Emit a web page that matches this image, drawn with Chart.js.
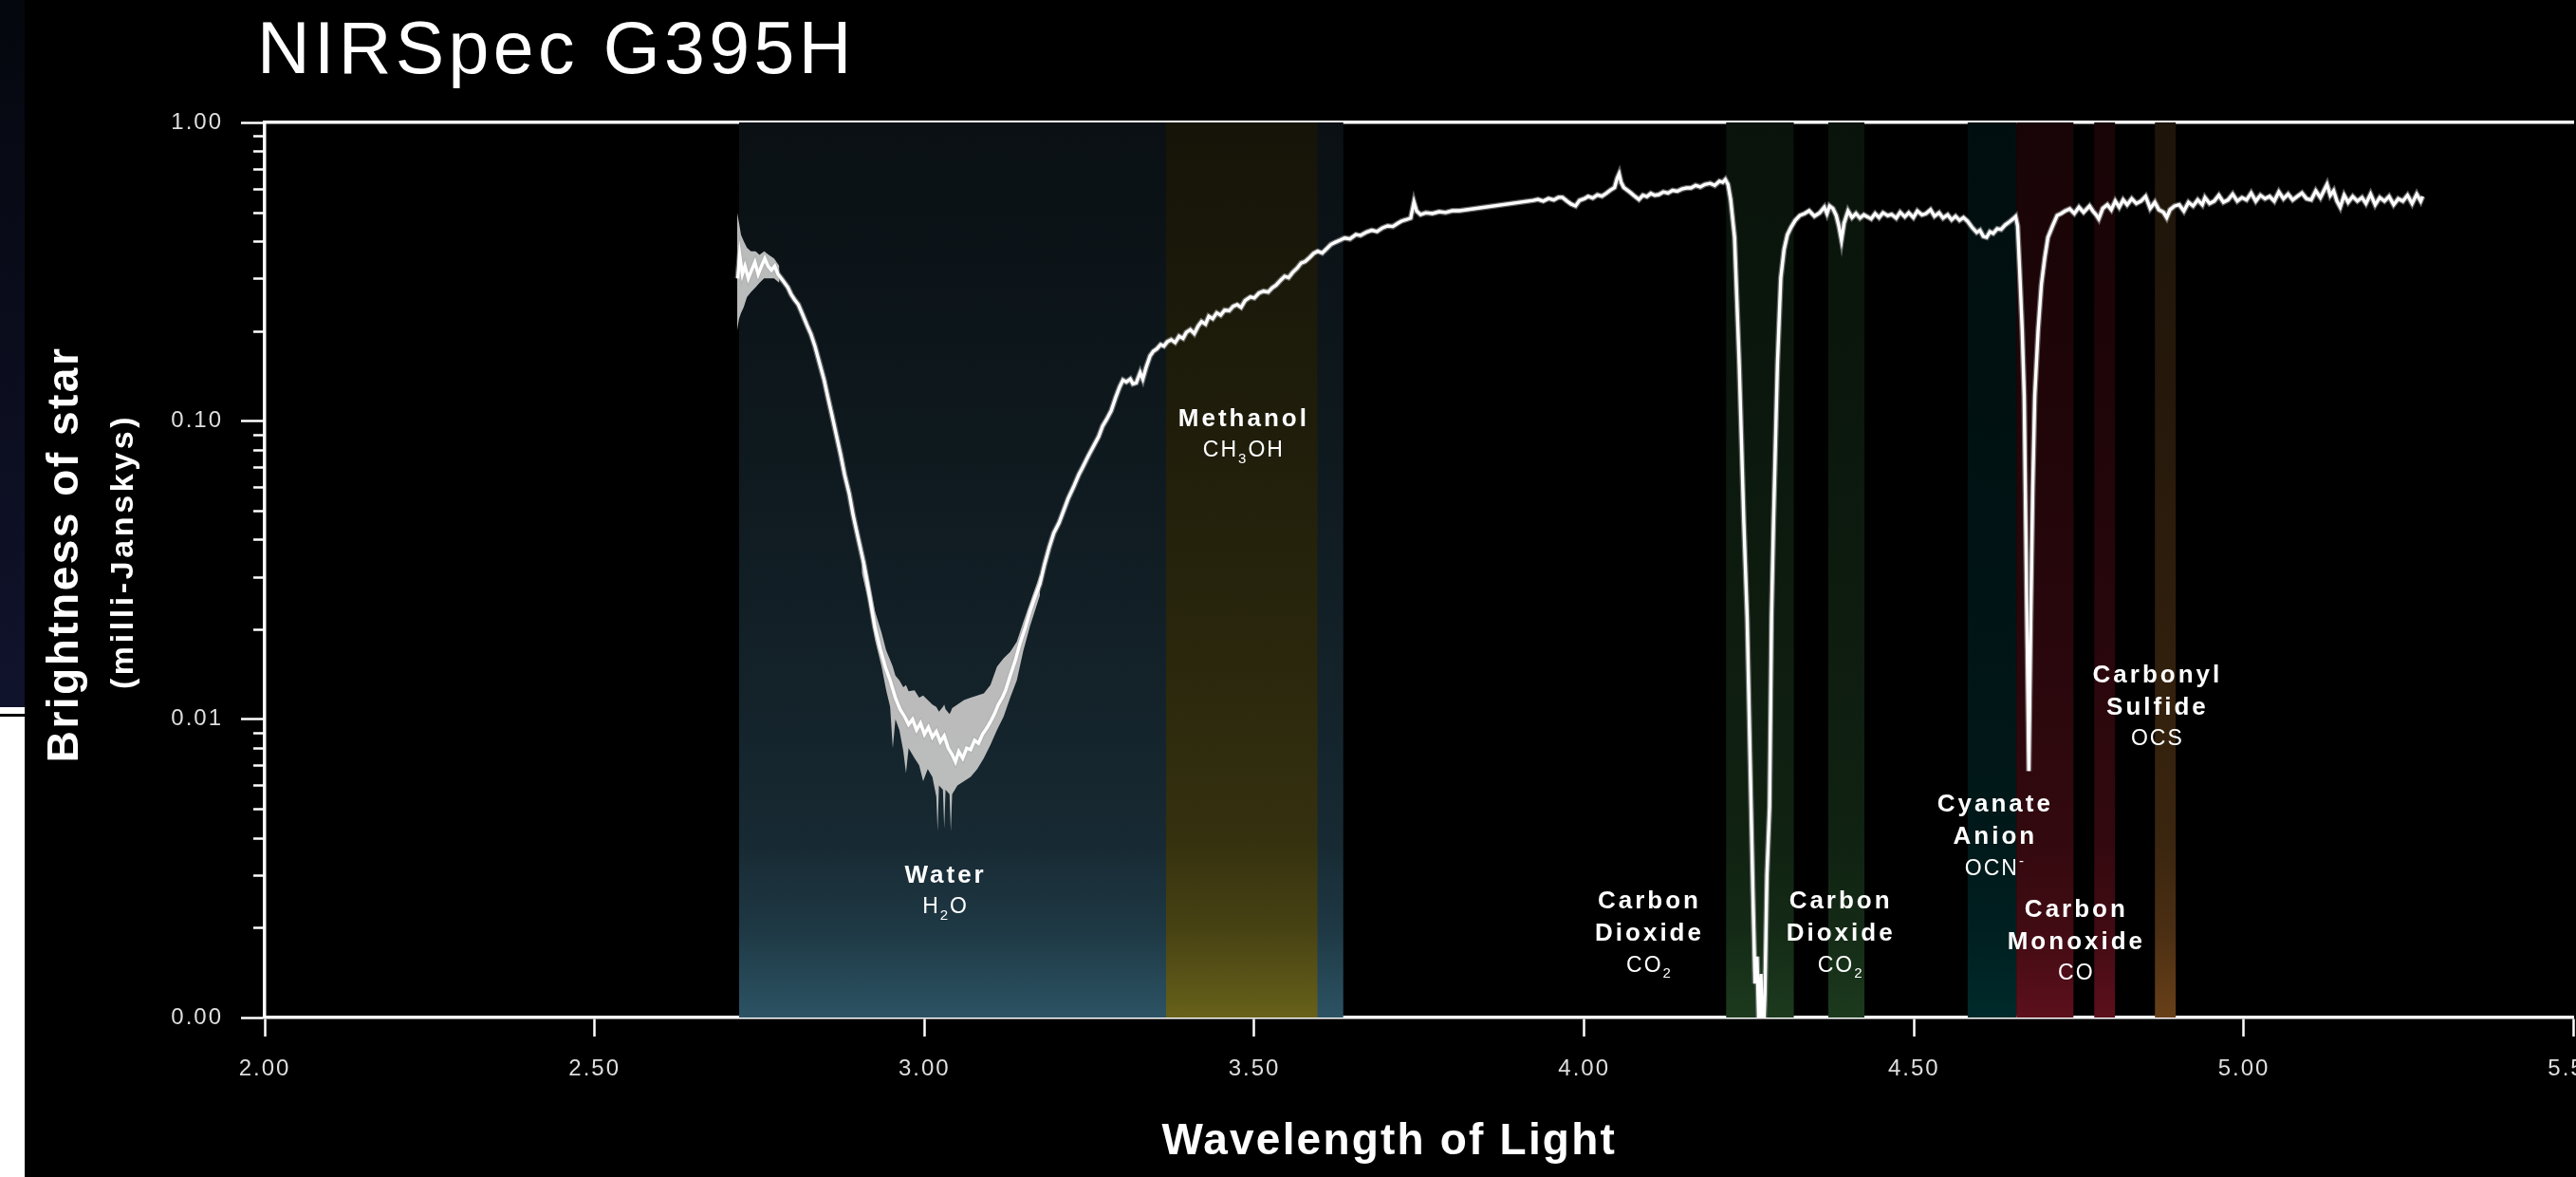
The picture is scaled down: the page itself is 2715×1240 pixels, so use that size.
<!DOCTYPE html>
<html>
<head>
<meta charset="utf-8">
<title>NIRSpec G395H</title>
<script src="https://cdn.jsdelivr.net/npm/chart.js@4.4.1/dist/chart.umd.min.js"></script>
<style>
  html, body { margin: 0; padding: 0; background: #000; overflow: hidden; }
  #wrap { position: relative; width: 2760px; height: 1240px; }
</style>
</head>
<body>
<div id="wrap"><canvas id="spectrumChart"></canvas></div>
<script>
const FONT = '"Liberation Sans", Arial, Helvetica, sans-serif';

/* axes */
const chartTitle = 'NIRSpec G395H';
const xTitle = 'Wavelength of Light';
const yTitle = ['Brightness of star', '(milli-Janskys)'];
const xMin = 2.0, xMax = 5.5, xStep = 0.5;
const yMin = 0.001, yMax = 1;

/* absorption bands (wavelength, microns) */
const bandNames = ['Water', 'Methanol', 'Carbon Dioxide', 'Carbon Dioxide', 'Cyanate Anion', 'Carbon Monoxide', 'Carbon Monoxide', 'Carbonyl Sulfide'];
const bandStart = [2.719, 3.366, 4.215, 4.370, 4.581, 4.655, 4.773, 4.865];
const bandEnd   = [3.635, 3.596, 4.318, 4.425, 4.655, 4.742, 4.805, 4.897];

/* band labels */
const labelNames = [['Water'], ['Methanol'], ['Carbon', 'Dioxide'], ['Carbon', 'Dioxide'], ['Cyanate', 'Anion'], ['Carbon', 'Monoxide'], ['Carbonyl', 'Sulfide']];
const labelFormulas = ['H_2O', 'CH_3OH', 'CO_2', 'CO_2', 'OCN^-', 'CO', 'OCS'];
const labelWl   = [3.032, 3.484, 4.099, 4.389, 4.623, 4.746, 4.869];
const labelFlux = [0.00298, 0.101, 0.00244, 0.00244, 0.00515, 0.00229, 0.01396];

/* spectrum: [wavelength, flux] */
const spectrum = [
  [2.717,0.30],[2.720,0.36],[2.724,0.31],[2.728,0.33],[2.733,0.30],[2.738,0.32],[2.743,0.34],[2.748,0.31],
  [2.753,0.33],[2.758,0.35],[2.763,0.33],[2.768,0.32],[2.773,0.33],[2.778,0.31],[2.783,0.30],[2.788,0.29],
  [2.793,0.28],[2.798,0.265],[2.803,0.255],[2.809,0.245],[2.815,0.228],[2.822,0.209],[2.828,0.195],[2.834,0.178],
  [2.841,0.156],[2.848,0.137],[2.854,0.119],[2.860,0.104],[2.867,0.0885],[2.873,0.077],[2.879,0.066],[2.886,0.057],
  [2.892,0.0482],[2.900,0.040],[2.908,0.0334],[2.916,0.0265],[2.925,0.0203],[2.933,0.0172],[2.941,0.0149],[2.948,0.0135],
  [2.956,0.0118],[2.963,0.0108],[2.970,0.0102],[2.976,0.0096],[2.982,0.0100],[2.988,0.0092],[2.994,0.0097],[3.000,0.0089],
  [3.006,0.0094],[3.012,0.0087],[3.018,0.0091],[3.024,0.0084],[3.030,0.0088],[3.036,0.0080],[3.042,0.0076],[3.047,0.0072],
  [3.052,0.0078],[3.058,0.0074],[3.064,0.0080],[3.070,0.0079],[3.076,0.0085],[3.082,0.0083],[3.088,0.0089],[3.094,0.0093],
  [3.100,0.0098],[3.106,0.0104],[3.112,0.0112],[3.118,0.0118],[3.123,0.0125],[3.130,0.0140],[3.138,0.0158],[3.145,0.0180],
  [3.153,0.0203],[3.160,0.0230],[3.167,0.0255],[3.175,0.0284],[3.182,0.0330],[3.189,0.0376],[3.196,0.0420],[3.204,0.0455],
  [3.211,0.0500],[3.218,0.0550],[3.226,0.0600],[3.234,0.0660],[3.240,0.0700],[3.248,0.0760],[3.256,0.0820],[3.264,0.0885],
  [3.270,0.0960],[3.276,0.1010],[3.283,0.1080],[3.290,0.1200],[3.296,0.1300],[3.301,0.1370],[3.306,0.1350],[3.312,0.1380],
  [3.316,0.1330],[3.321,0.1340],[3.327,0.1450],[3.331,0.1380],[3.336,0.1510],[3.342,0.1650],[3.347,0.1710],[3.352,0.1740],
  [3.358,0.1800],[3.363,0.1780],[3.368,0.1840],[3.374,0.1870],[3.380,0.1830],[3.386,0.1920],[3.392,0.1890],[3.397,0.1980],
  [3.403,0.2020],[3.409,0.1960],[3.415,0.2080],[3.420,0.2150],[3.426,0.2110],[3.431,0.2240],[3.437,0.2200],[3.443,0.2300],
  [3.449,0.2260],[3.455,0.2350],[3.462,0.2340],[3.468,0.2420],[3.474,0.2450],[3.480,0.2400],[3.486,0.2530],[3.494,0.2600],
  [3.500,0.2580],[3.507,0.2680],[3.514,0.2720],[3.521,0.2700],[3.527,0.2790],[3.533,0.2850],[3.540,0.2960],[3.546,0.3050],
  [3.552,0.3020],[3.558,0.3140],[3.565,0.3250],[3.571,0.3380],[3.577,0.3420],[3.584,0.3530],[3.590,0.3640],[3.596,0.3700],
  [3.603,0.3650],[3.610,0.3780],[3.616,0.3900],[3.623,0.3970],[3.630,0.4030],[3.637,0.4100],[3.645,0.4070],[3.654,0.4210],
  [3.661,0.4180],[3.670,0.4290],[3.678,0.4350],[3.686,0.4310],[3.694,0.4430],[3.702,0.4500],[3.710,0.4480],[3.718,0.4600],
  [3.723,0.4670],[3.730,0.4720],[3.737,0.4780],[3.742,0.5410],[3.746,0.5050],[3.752,0.4910],[3.760,0.4980],[3.770,0.4950],
  [3.780,0.5020],[3.790,0.4990],[3.800,0.5060],[3.811,0.5060],
  [3.923,0.5480],[3.930,0.5520],[3.938,0.5450],[3.946,0.5560],[3.954,0.5500],[3.961,0.5610],[3.967,0.5610],[3.974,0.5450],
  [3.980,0.5330],[3.987,0.5250],[3.993,0.5480],[4.000,0.5550],[4.006,0.5650],[4.013,0.5580],[4.020,0.5720],[4.027,0.5660],
  [4.034,0.5800],[4.040,0.5940],[4.046,0.6050],[4.050,0.6500],[4.053,0.6730],[4.056,0.6300],[4.060,0.6050],[4.065,0.5940],
  [4.071,0.5800],[4.077,0.5650],[4.083,0.5520],[4.089,0.5700],[4.095,0.5640],[4.101,0.5780],[4.107,0.5700],[4.113,0.5730],
  [4.120,0.5850],[4.127,0.5800],[4.134,0.5920],[4.141,0.5880],[4.148,0.5980],[4.155,0.6030],[4.162,0.6030],[4.169,0.6150],
  [4.176,0.6080],[4.183,0.6200],[4.191,0.6250],[4.198,0.6150],[4.205,0.6350],[4.210,0.6300],[4.214,0.6440],[4.218,0.6200],
  [4.222,0.5520],[4.228,0.4120],[4.235,0.1560],[4.242,0.0457],[4.247,0.0220],[4.253,0.0051],[4.256,0.0025],[4.259,0.0013],
  [4.262,0.0016],[4.265,0.0009],[4.268,0.0014],[4.271,0.0008],[4.274,0.0012],[4.277,0.0030],[4.281,0.0051],[4.284,0.0220],
  [4.287,0.0457],[4.293,0.1560],[4.298,0.3010],[4.303,0.3750],[4.308,0.4200],[4.313,0.4430],[4.320,0.4700],[4.327,0.4880],
  [4.334,0.4950],[4.341,0.5060],[4.349,0.4850],[4.357,0.4980],[4.364,0.5200],[4.368,0.4950],[4.372,0.5250],[4.377,0.5150],
  [4.382,0.4880],[4.386,0.4500],[4.390,0.4030],[4.394,0.4600],[4.400,0.5050],[4.406,0.4800],[4.412,0.4950],[4.418,0.4780],
  [4.424,0.4900],[4.430,0.4820],[4.435,0.4750],[4.441,0.4950],[4.447,0.4800],[4.453,0.4980],[4.460,0.4870],[4.466,0.4920],
  [4.473,0.4780],[4.479,0.5000],[4.486,0.4830],[4.492,0.4980],[4.499,0.4800],[4.505,0.5050],[4.512,0.4900],[4.518,0.4950],
  [4.525,0.5100],[4.531,0.4850],[4.538,0.4980],[4.544,0.4780],[4.551,0.4900],[4.557,0.4720],[4.563,0.4850],[4.569,0.4700],
  [4.575,0.4800],[4.581,0.4670],[4.588,0.4450],[4.595,0.4280],[4.600,0.4350],[4.605,0.4150],[4.610,0.4120],[4.615,0.4300],
  [4.620,0.4250],[4.626,0.4400],[4.632,0.4380],[4.638,0.4530],[4.645,0.4650],[4.650,0.4750],[4.654,0.4840],[4.657,0.4500],
  [4.660,0.3240],[4.664,0.2000],[4.667,0.1210],[4.671,0.0220],[4.674,0.0067],[4.677,0.0220],[4.680,0.0600],[4.683,0.1210],
  [4.688,0.2000],[4.693,0.2860],[4.698,0.3500],[4.703,0.4120],[4.710,0.4500],[4.717,0.4880],[4.723,0.4950],[4.729,0.5050],
  [4.736,0.5130],[4.743,0.4950],[4.750,0.5200],[4.757,0.5000],[4.766,0.5250],[4.771,0.5050],[4.776,0.4900],[4.780,0.4750],
  [4.786,0.5150],[4.793,0.5300],[4.799,0.5100],[4.805,0.5450],[4.811,0.5200],[4.817,0.5500],[4.823,0.5300],[4.830,0.5550],
  [4.837,0.5350],[4.844,0.5450],[4.851,0.5650],[4.858,0.5150],[4.865,0.5400],[4.871,0.5100],[4.878,0.5000],[4.883,0.4800],
  [4.888,0.5100],[4.895,0.5250],[4.902,0.5300],[4.909,0.5050],[4.916,0.5400],[4.923,0.5250],[4.930,0.5500],[4.937,0.5300],
  [4.941,0.5600],[4.948,0.5350],[4.955,0.5450],[4.962,0.5700],[4.969,0.5400],[4.976,0.5500],[4.983,0.5750],[4.990,0.5450],
  [4.997,0.5600],[5.004,0.5500],[5.011,0.5800],[5.018,0.5450],[5.025,0.5700],[5.032,0.5550],[5.039,0.5650],[5.046,0.5450],
  [5.053,0.5850],[5.060,0.5550],[5.067,0.5750],[5.074,0.5500],[5.081,0.5650],[5.088,0.5800],[5.095,0.5550],[5.102,0.5500],
  [5.109,0.5900],[5.116,0.5600],[5.122,0.5950],[5.126,0.6200],[5.131,0.5700],[5.136,0.5900],[5.141,0.5450],[5.146,0.5200],
  [5.152,0.5700],[5.158,0.5400],[5.165,0.5650],[5.172,0.5450],[5.179,0.5600],[5.185,0.5350],[5.192,0.5750],[5.199,0.5300],
  [5.206,0.5600],[5.213,0.5450],[5.220,0.5650],[5.227,0.5300],[5.234,0.5550],[5.241,0.5450],[5.248,0.5700],[5.255,0.5350],
  [5.262,0.5750],[5.268,0.5450],[5.271,0.5650]
];

/* noise envelope: [wavelength, low, high] */
const noiseStart = [
  [2.716,0.20,0.50],[2.719,0.22,0.46],[2.722,0.23,0.42],[2.726,0.24,0.40],[2.731,0.26,0.38],[2.737,0.27,0.37],
  [2.744,0.28,0.37],[2.750,0.29,0.36],[2.757,0.30,0.37],[2.764,0.30,0.36],[2.772,0.30,0.35],[2.780,0.29,0.33]
];
const noiseTrough = [
  [2.905,0.031,0.037],[2.915,0.025,0.030],[2.925,0.0185,0.023],[2.935,0.0150,0.0195],[2.942,0.0125,0.0170],
  [2.948,0.0110,0.0158],[2.952,0.0080,0.0150],[2.956,0.0100,0.0140],[2.962,0.0092,0.0135],[2.968,0.0078,0.0128],
  [2.972,0.0066,0.0130],[2.976,0.0080,0.0124],[2.985,0.0074,0.0125],[2.992,0.0070,0.0118],[2.998,0.0062,0.0120],
  [3.005,0.0068,0.0116],[3.012,0.0064,0.0112],[3.018,0.0055,0.0110],[3.020,0.0042,0.0108],[3.022,0.0060,0.0106],
  [3.028,0.0058,0.0110],[3.030,0.0043,0.0112],[3.032,0.0058,0.0108],[3.038,0.0056,0.0104],[3.040,0.0042,0.0106],
  [3.042,0.0056,0.0109],[3.050,0.0060,0.0112],[3.060,0.0062,0.0116],[3.070,0.0064,0.0118],[3.080,0.0068,0.0120],
  [3.090,0.0074,0.0122],[3.100,0.0082,0.0130],[3.110,0.0092,0.0150],[3.120,0.0102,0.0160],[3.130,0.0118,0.0168],
  [3.140,0.0135,0.0182],[3.150,0.0170,0.0212],[3.160,0.0205,0.0245],[3.175,0.0260,0.0305]
];

/* band colours: dark at the top, brighter at the bottom */
const bandTop    = ['#0a1014', '#161408', '#09130b', '#09130b', '#010e0f', '#180406', '#180406', '#1e1409'];
const bandBottom = ['#2c5364', '#67611a', '#1c3a1e', '#1c3a1e', '#002a2b', '#5c101c', '#5c101c', '#684019'];
const gradStops = [[0, 0], [0.3, 0.1], [0.6, 0.25], [0.8, 0.38], [0.9, 0.6], [1, 1]];

function hexRgb(h) {
  return [1, 3, 5].map(i => parseInt(h.slice(i, i + 2), 16));
}
function mix(a, b, f) {
  const c = a.map((v, i) => Math.round(v + (b[i] - v) * f));
  return 'rgb(' + c.join(',') + ')';
}
function bandFill(i) {
  return (ctx) => {
    const area = ctx.chart.chartArea;
    if (!area) return bandBottom[i];
    const g = ctx.chart.ctx.createLinearGradient(0, area.top, 0, area.bottom);
    const top = hexRgb(bandTop[i]), bot = hexRgb(bandBottom[i]);
    gradStops.forEach(([t, f]) => g.addColorStop(t, mix(top, bot, f)));
    return g;
  };
}

function isMajor(v) {
  const l = Math.log10(v);
  return Math.abs(l - Math.round(l)) < 1e-6;
}

const spectrumPoints = spectrum.map(([x, y]) => ({ x, y }));
const datasets = [];

// spectrum on top, with a soft grey halo underneath
datasets.push({
  label: 'Spectrum',
  data: spectrumPoints,
  borderColor: '#ffffff',
  borderWidth: 3.4,
  pointRadius: 0,
  fill: false,
  order: 0
});
datasets.push({
  label: 'Spectrum halo',
  data: spectrumPoints,
  borderColor: 'rgba(175,175,175,0.55)',
  borderWidth: 6,
  pointRadius: 0,
  fill: false,
  order: 1
});

// grey noise envelopes
[noiseStart, noiseTrough].forEach(rows => {
  datasets.push({
    label: 'noise low',
    data: rows.map(r => ({ x: r[0], y: r[1] })),
    borderWidth: 0, pointRadius: 0, fill: false, order: 2
  });
  datasets.push({
    label: 'noise high',
    data: rows.map(r => ({ x: r[0], y: r[2] })),
    borderWidth: 0, pointRadius: 0, fill: '-1',
    backgroundColor: 'rgba(196,196,196,0.95)', order: 2
  });
});

// coloured bands
bandNames.forEach((name, i) => {
  datasets.push({
    label: name,
    data: [{ x: bandStart[i], y: yMax }, { x: bandEnd[i], y: yMax }],
    borderWidth: 0,
    pointRadius: 0,
    fill: 'start',
    backgroundColor: bandFill(i),
    order: i === 0 ? 5 : 4
  });
});

function drawFormula(ctx, text, cx, cy) {
  const parts = [];
  for (let i = 0; i < text.length; i++) {
    const ch = text[i];
    if ((ch === '_' || ch === '^') && i + 1 < text.length) {
      parts.push({ t: text[i + 1], kind: ch === '_' ? 'sub' : 'sup' });
      i++;
    } else {
      parts.push({ t: ch, kind: 'n' });
    }
  }
  const fontOf = p => p.kind === 'n' ? '23px ' + FONT : '15px ' + FONT;
  let total = 0;
  parts.forEach(p => { ctx.font = fontOf(p); p.w = ctx.measureText(p.t).width; total += p.w; });
  let x = cx - total / 2;
  ctx.textAlign = 'left';
  parts.forEach(p => {
    ctx.font = fontOf(p);
    const dy = p.kind === 'sub' ? 9 : p.kind === 'sup' ? -7 : 0;
    ctx.fillText(p.t, x, cy + dy);
    x += p.w;
  });
}

const decorPlugin = {
  id: 'decor',
  beforeUpdate(chart) { chart.ctx.letterSpacing = '2px'; },
  beforeDraw(chart) {
    const ctx = chart.ctx;
    ctx.letterSpacing = '2px';
    // strip of a neighbouring panel at the left edge
    ctx.save();
    const g = ctx.createLinearGradient(0, 0, 0, 745);
    g.addColorStop(0, '#05070e');
    g.addColorStop(1, '#10132c');
    ctx.fillStyle = g;
    ctx.fillRect(0, 0, 26, 745);
    ctx.fillStyle = '#ffffff';
    ctx.fillRect(0, 745, 26, 495);
    ctx.fillStyle = '#000000';
    ctx.fillRect(0, 752, 26, 3);
    ctx.restore();
  },
  afterDraw(chart) {
    const ctx = chart.ctx;
    const xs = chart.scales.x, ys = chart.scales.y;
    const area = chart.chartArea;
    ctx.save();

    // minor ticks on the log axis
    ctx.strokeStyle = '#ffffff';
    ctx.lineWidth = 2.5;
    ys.ticks.forEach(t => {
      if (isMajor(t.value)) return;
      const py = Math.round(ys.getPixelForValue(t.value)) + 0.5;
      ctx.beginPath();
      ctx.moveTo(area.left - 12, py);
      ctx.lineTo(area.left, py);
      ctx.stroke();
    });

    ctx.fillStyle = '#ffffff';

    // chart title
    ctx.letterSpacing = '4.4px';
    ctx.font = '77px ' + FONT;
    ctx.textAlign = 'left';
    ctx.textBaseline = 'alphabetic';
    ctx.fillText(chartTitle, area.left - 8, 77);

    // x axis title
    ctx.letterSpacing = '2.2px';
    ctx.font = 'bold 46px ' + FONT;
    ctx.textAlign = 'center';
    ctx.fillText(xTitle, area.left + (area.right - area.left) * 0.487, 1216);

    // y axis title, two lines
    ctx.save();
    ctx.translate(82, 584);
    ctx.rotate(-Math.PI / 2);
    ctx.letterSpacing = '2.5px';
    ctx.font = 'bold 46px ' + FONT;
    ctx.fillText(yTitle[0], 0, 0);
    ctx.restore();
    ctx.save();
    ctx.translate(140, 581);
    ctx.rotate(-Math.PI / 2);
    ctx.letterSpacing = '3.6px';
    ctx.font = 'bold 34px ' + FONT;
    ctx.fillText(yTitle[1], 0, 0);
    ctx.restore();

    // band labels
    ctx.textBaseline = 'middle';
    labelNames.forEach((lines, i) => {
      const cx = xs.getPixelForValue(labelWl[i]);
      const cy = ys.getPixelForValue(labelFlux[i]);
      ctx.letterSpacing = '3px';
      ctx.font = 'bold 26px ' + FONT;
      ctx.textAlign = 'center';
      lines.forEach((ln, k) => ctx.fillText(ln, cx, cy + k * 34));
      ctx.letterSpacing = '2px';
      drawFormula(ctx, labelFormulas[i], cx, cy + lines.length * 34 - 1);
    });

    ctx.restore();
  }
};

new Chart(document.getElementById('spectrumChart'), {
  type: 'line',
  data: { datasets },
  plugins: [decorPlugin],
  options: {
    responsive: true,
    maintainAspectRatio: false,
    devicePixelRatio: 1,
    animation: false,
    layout: { padding: { top: 129, left: 0, right: 41.5, bottom: 0 } },
    plugins: {
      legend: { display: false },
      tooltip: { enabled: false },
      title: { display: false }
    },
    scales: {
      x: {
        type: 'linear',
        position: 'bottom',
        min: xMin,
        max: xMax,
        afterFit: s => { s.height = 168; },
        ticks: {
          stepSize: xStep,
          autoSkip: false,
          maxRotation: 0,
          padding: 20,
          color: '#dedede',
          font: { family: FONT, size: 24 },
          callback: v => Number(v).toFixed(2)
        },
        grid: {
          display: true,
          drawOnChartArea: false,
          drawTicks: true,
          tickLength: 20,
          tickWidth: 2.5,
          tickColor: '#ffffff'
        },
        border: { display: true, color: '#ffffff', width: 3.5 }
      },
      x2: {
        type: 'linear',
        position: 'top',
        min: xMin,
        max: xMax,
        afterFit: s => { s.height = 0; },
        ticks: { display: false },
        grid: { display: false, drawTicks: false },
        border: { display: true, color: '#ffffff', width: 3.5 }
      },
      y: {
        type: 'logarithmic',
        position: 'left',
        min: yMin,
        max: yMax,
        afterFit: s => { s.width = 279; },
        afterBuildTicks: s => {
          s.ticks = s.ticks.filter(t => {
            const m = t.value / Math.pow(10, Math.floor(Math.log10(t.value) + 1e-9));
            return Math.abs(m - Math.round(m)) < 1e-6;
          });
        },
        ticks: {
          autoSkip: false,
          padding: 19,
          color: '#dedede',
          font: { family: FONT, size: 24 },
          callback: v => isMajor(v) ? Number(v).toFixed(2) : ''
        },
        grid: {
          display: true,
          drawOnChartArea: false,
          drawTicks: true,
          tickLength: 25,
          tickWidth: 2.5,
          tickColor: ctx => (ctx.tick && isMajor(ctx.tick.value)) ? '#ffffff' : 'rgba(0,0,0,0)'
        },
        border: { display: true, color: '#ffffff', width: 3.5 }
      }
    }
  }
});
</script>
</body>
</html>
